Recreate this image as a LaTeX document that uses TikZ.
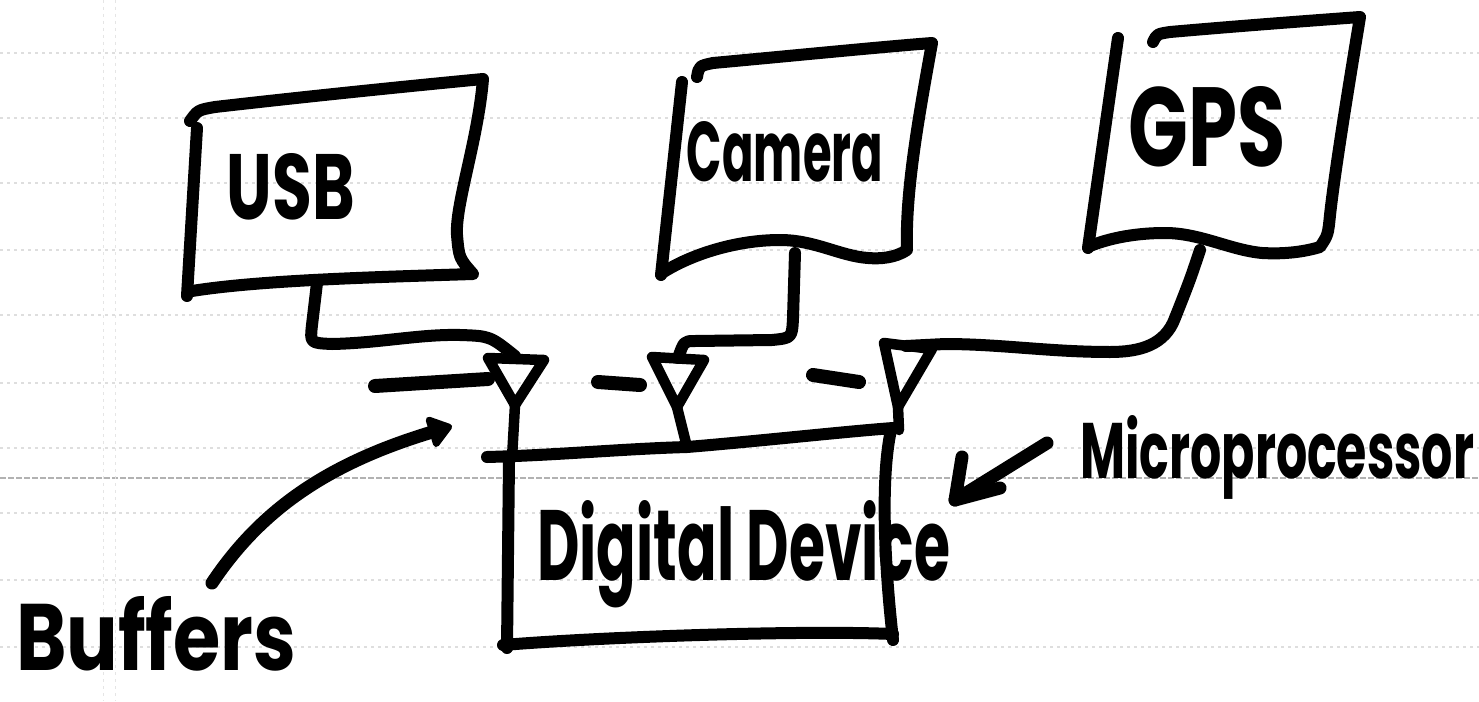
\documentclass[tikz,border=0pt]{standalone}
\usepackage{fontspec}
\setmainfont{Poppins}
\usepackage{graphicx}
\usetikzlibrary{arrows.meta}
\begin{document}
\begin{tikzpicture}[x=1pt,y=-1pt,
  ink/.style={line width=12pt,line cap=round,line join=round},
  tri/.style={line width=10.5pt,line cap=round,line join=round},
  bus/.style={line width=14pt,line cap=round},
  paper/.style={black!13,line width=1.2pt,dash pattern=on 3pt off 4pt},
  lbl/.style={inner sep=0pt,font=\bfseries}]
\fill[white] (0,0) rectangle (1479,701);
\path[use as bounding box] (0,0) rectangle (1479,701);
% paper ruling
\foreach \yy in {53,118,183,250,315,383,448,513,580,647}
  \draw[paper] (0,\yy) -- (1479,\yy);
\draw[black!30,line width=1.5pt,dash pattern=on 6pt off 2pt] (0,478) -- (1479,478);
\draw[black!10,line width=1pt,dash pattern=on 3pt off 4pt] (103,0) -- (103,701);
\draw[black!10,line width=1pt,dash pattern=on 3pt off 4pt] (115,0) -- (115,701);

% USB box
\draw[ink] (190,121) .. controls (198,110) .. (215,107) .. controls (320,95) and (420,85) .. (483,79)
  .. controls (478,140) and (455,205) .. (457,235) .. controls (459,258) .. (473,274)
  .. controls (380,277) and (260,280) .. (192,291);
\draw[ink] (197,128) -- (187,296);
\node[lbl] (usbL) at (291,187) {\resizebox{128pt}{66pt}{USB}};
\coordinate (usbS) at (317,283);

% Camera box
\draw[ink] (697,77) .. controls (699,66) .. (713,63) .. controls (800,55) and (880,47) .. (932,43)
  .. controls (920,110) and (905,190) .. (907,250)
  .. controls (895,258) and (880,259) .. (868,258)
  .. controls (840,256) and (815,240) .. (780,240)
  .. controls (735,240) and (690,255) .. (662,273);
\draw[ink] (682,82) -- (661,275);
\node[lbl] (camL) at (785,152) {\resizebox{196pt}{60pt}{Camera}};
\coordinate (camS) at (795,253);

% GPS box
\draw[ink] (1153,42) .. controls (1157,34) .. (1170,32) .. controls (1250,25) and (1320,20) .. (1360,17)
  .. controls (1348,90) and (1335,170) .. (1330,215) .. controls (1328,235) .. (1320,247)
  .. controls (1300,253) and (1280,254) .. (1262,253)
  .. controls (1230,250) and (1200,233) .. (1165,233)
  .. controls (1130,233) and (1105,240) .. (1090,246);
\draw[ink] (1118,38) -- (1088,248);
\node[lbl] (gpsL) at (1207,127) {\resizebox{157pt}{80pt}{GPS}};
\coordinate (gpsS) at (1200,250);

% buffers
\coordinate (b1top) at (515,356);
\coordinate (b1tip) at (515,405);
\coordinate (b2top) at (678,358);
\coordinate (b2tip) at (677,407);
\coordinate (b3top) at (906,346);
\coordinate (b3tip) at (898,407);
\draw[tri] (488,358) -- (544,360) -- (b1tip) -- cycle;
\draw[tri] (652,357) -- (704,360) -- (b2tip) -- cycle;
\draw[tri] (884,343) -- (932,349) -- (b3tip) -- cycle;

% bus dashes
\draw[bus] (375,386) -- (488,379);
\draw[bus] (598,382) -- (640,385);
\draw[bus] (813,375) -- (859,382);

% connectors
\draw[ink] (usbS) -- (312,325) .. controls (310,343) .. (332,344)
  .. controls (380,343) and (420,334) .. (460,335) .. controls (490,336) .. (b1top);
\draw[ink] (camS) -- (793,318) .. controls (792,338) .. (772,340) -- (695,341)
  .. controls (684,341) .. (b2top);
\draw[ink] (gpsS) .. controls (1190,280) .. (1175,318) .. controls (1165,345) and (1140,352) .. (1110,352)
  .. controls (1050,352) and (1000,344) .. (945,344) -- (b3top);

% Digital device box
\coordinate (ddTL) at (487,457);
\coordinate (ddT2) at (687,447);
\coordinate (ddTR) at (893,428);
\draw[ink] (ddTL) .. controls (560,455) and (620,449) .. (ddT2) .. controls (760,441) and (840,432) .. (ddTR);
\draw[ink] (509,460) -- (507,648);
\draw[ink] (891,430) .. controls (880,480) and (885,570) .. (893,640);
\draw[ink] (503,645) .. controls (600,637) and (800,630) .. (893,634);
\node[lbl,anchor=base west] (ddL) at (537,580) {\resizebox{413pt}{80pt}{Digital Device}};

% buffer stems
\draw[tri] (b1tip) -- (512,458);
\draw[tri] (b2tip) -- (ddT2);
\draw[tri] (b3tip) -- (899,430);

% Microprocessor label and arrow
\node[lbl,anchor=base west] (mpL) at (1080,478) {\resizebox{394pt}{63pt}{Microprocessor}};
\coordinate (mpS) at (1047,443);
\coordinate (mpT) at (955,500);
\draw[ink,line width=13pt] (mpS) -- (mpT);
\draw[ink,line width=13pt] (962,457) -- (mpT) -- (1000,488);

% Buffers label and arrow
\node[lbl,anchor=base west] (bufL) at (16,670) {\resizebox{280pt}{74pt}{Buffers}};
\coordinate (bfS) at (212,583);
\coordinate (bfT) at (452,426);
\draw[ink,line width=13pt,-{Triangle[length=26pt,width=36pt,round]}] (bfS) .. controls (262,508) and (330,463) .. (bfT);
\end{tikzpicture}
\end{document}
